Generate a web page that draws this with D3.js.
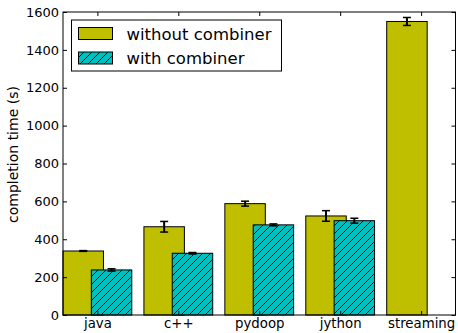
<!DOCTYPE html>
<html>
<head>
<meta charset="utf-8">
<script src="https://cdn.jsdelivr.net/npm/d3@7"></script>
<style>
  html, body { margin: 0; padding: 0; background: #fff; }
  svg { display: block; }
  text { font-family: "DejaVu Sans", sans-serif; fill: #000; }
</style>
</head>
<body>
<svg id="chart" width="458" height="333"></svg>
<script>
// Job completion times per implementation
const categories = ["java", "c++", "pydoop", "jython", "streaming"];
const withoutCombiner = [338, 466, 588, 523, 1550];
const withoutCombinerErr = [2, 28, 13, 28, 21];
const withCombiner = [238, 326, 476, 498, null];
const withCombinerErr = [6, 4, 5, 13, null];
const yTicks = [0, 200, 400, 600, 800, 1000, 1200, 1400, 1600];
const seriesNames = ["without combiner", "with combiner"];

const svg = d3.select("#chart");
const margin = { left: 63, right: 2.5, top: 12, bottom: 18 };
const W = 458, H = 333;
const plotL = margin.left, plotR = W - margin.right;
const plotT = margin.top, plotB = H - margin.bottom;

const barW = 0.5, offset = 0.35;
const x = d3.scaleLinear().domain([-0.425, categories.length - 1 + 0.425]).range([plotL, plotR]);
const y = d3.scaleLinear().domain([0, 1600]).range([plotB, plotT]);

// hatch pattern for the "with combiner" series
const defs = svg.append("defs");
const pat = defs.append("pattern")
  .attr("id", "hatch")
  .attr("patternUnits", "userSpaceOnUse")
  .attr("width", 8).attr("height", 8);
pat.append("rect").attr("width", 8).attr("height", 8).attr("fill", "#00bfbf");
pat.append("path")
  .attr("d", "M-2,2 L2,-2 M0,8 L8,0 M6,10 L10,6")
  .attr("stroke", "#000").attr("stroke-width", 0.9).attr("fill", "none");

const g = svg.append("g");

function drawSeries(vals, errs, shift, fill) {
  const data = categories.map((c, i) => ({ i, v: vals[i], e: errs[i] })).filter(d => d.v != null);
  const left = d => x(d.i - 0.425 + shift);
  g.append("g").selectAll("rect").data(data).join("rect")
    .attr("x", left)
    .attr("y", d => y(d.v))
    .attr("width", d => x(d.i - 0.425 + shift + barW) - left(d))
    .attr("height", d => y(0) - y(d.v))
    .attr("fill", fill)
    .attr("stroke", "#000").attr("stroke-width", 1);
  // error bars
  const eg = g.append("g").attr("stroke", "#000").attr("stroke-width", 2);
  data.forEach(d => {
    const cx = x(d.i - 0.425 + shift + barW / 2);
    eg.append("line").attr("x1", cx).attr("x2", cx).attr("y1", y(d.v - d.e)).attr("y2", y(d.v + d.e));
    [d.v - d.e, d.v + d.e].forEach(v => {
      eg.append("line").attr("x1", cx - 4).attr("x2", cx + 4).attr("y1", y(v)).attr("y2", y(v))
        .attr("stroke-width", 1.5);
    });
  });
}
drawSeries(withoutCombiner, withoutCombinerErr, 0, "#bfbf00");
drawSeries(withCombiner, withCombinerErr, offset, "url(#hatch)");

// frame
svg.append("rect")
  .attr("x", plotL).attr("y", plotT)
  .attr("width", plotR - plotL).attr("height", plotB - plotT)
  .attr("fill", "none").attr("stroke", "#000").attr("stroke-width", 1);

// y axis with inward ticks on both sides
const yAxis = d3.axisLeft(y).tickValues(yTicks).tickFormat(d3.format("d"))
  .tickSizeInner(-4).tickSizeOuter(0).tickPadding(4);
const ya = svg.append("g").attr("transform", `translate(${plotL},0)`).call(yAxis);
ya.select(".domain").remove();
ya.selectAll("text").attr("font-size", 13).attr("font-family", "DejaVu Sans");
const yAxisR = d3.axisRight(y).tickValues(yTicks).tickSizeInner(-4).tickSizeOuter(0).tickFormat("");
const yr = svg.append("g").attr("transform", `translate(${plotR},0)`).call(yAxisR);
yr.select(".domain").remove();

// x axis
const catPos = categories.map((c, i) => i);
const xAxis = d3.axisBottom(x).tickValues(catPos).tickFormat(i => categories[i])
  .tickSizeInner(-4).tickSizeOuter(0).tickPadding(3.5);
const xa = svg.append("g").attr("transform", `translate(0,${plotB})`).call(xAxis);
xa.select(".domain").remove();
xa.selectAll("text").attr("font-size", 13.3).attr("font-family", "DejaVu Sans");
const xAxisT = d3.axisTop(x).tickValues(catPos).tickFormat("").tickSizeInner(-4).tickSizeOuter(0);
const xt = svg.append("g").attr("transform", `translate(0,${plotT})`).call(xAxisT);
xt.select(".domain").remove();

// y label
svg.append("text")
  .attr("transform", `translate(18,154.5) rotate(-90)`)
  .attr("text-anchor", "middle")
  .attr("font-size", 14)
  .text("completion time (s)");

// legend
const lg = svg.append("g");
lg.append("rect").attr("x", 71.5).attr("y", 20).attr("width", 210).attr("height", 51)
  .attr("fill", "#fff").attr("stroke", "#000").attr("stroke-width", 1);
const fills = ["#bfbf00", "url(#hatch)"];
seriesNames.forEach((name, k) => {
  const yy = 27.5 + k * 24.5;
  lg.append("rect").attr("x", 78.5).attr("y", yy).attr("width", 34).attr("height", 12)
    .attr("fill", fills[k]).attr("stroke", "#000").attr("stroke-width", 1);
  lg.append("text").attr("x", 126.5).attr("y", yy + 12).attr("font-size", 16.5).text(name);
});
</script>
</body>
</html>
